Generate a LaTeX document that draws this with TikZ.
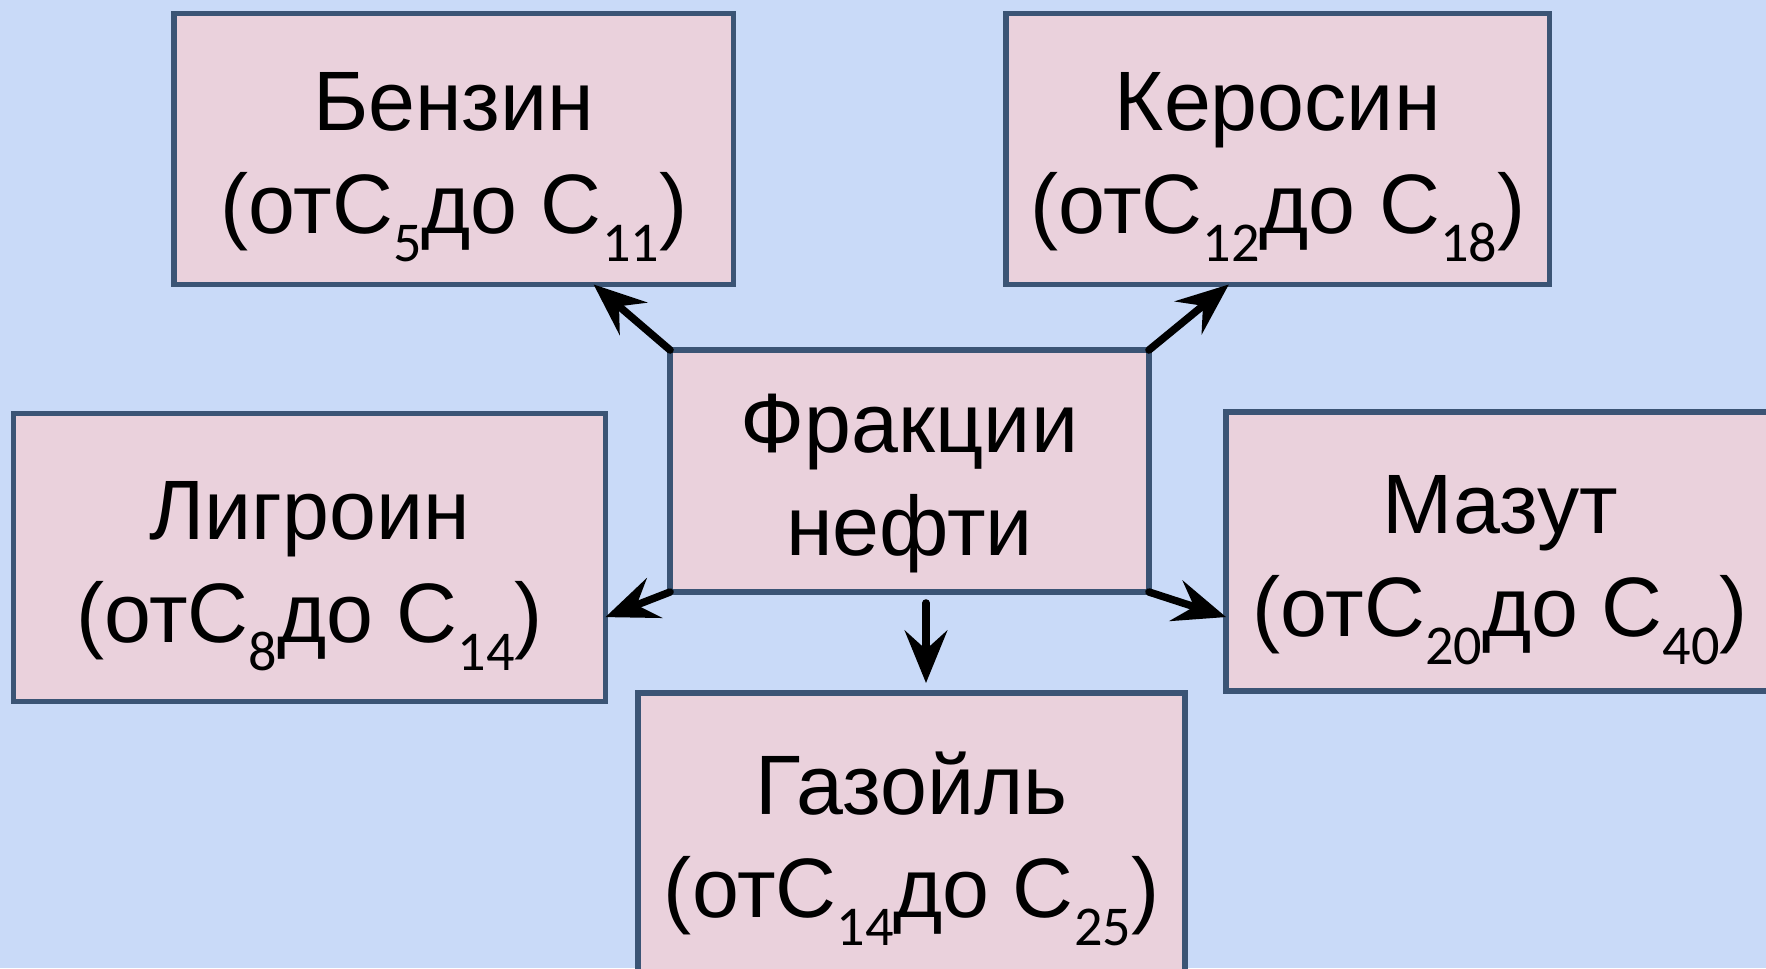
\documentclass[tikz,border=0pt]{standalone}
\usepackage{fontspec}
\setmainfont{Liberation Sans}
\newfontfamily\subfnt{Carlito}
\usetikzlibrary{arrows.meta,calc}
\definecolor{bgblue}{HTML}{C9DAF8}
\definecolor{boxpink}{HTML}{EAD1DC}
\definecolor{boxline}{HTML}{3B5475}
\newcommand\sbs[1]{\raisebox{-16pt}[0pt][0pt]{\subfnt\fontsize{32pt}{32pt}\selectfont #1}}
\newcommand\firstl{\rule{0pt}{53pt}}
\newcommand\lastl{\rule[-15pt]{0pt}{15pt}}
\begin{document}
\begin{tikzpicture}[x=0.02cm,y=-0.02cm,
  fbox/.style={draw=boxline, line width=0.11cm, fill=boxpink, inner sep=0pt, outer sep=0pt, align=center,
    font={\fontsize{48pt}{58.6pt}\selectfont}},
  arr/.style={line width=0.15cm, line cap=round, -{Stealth[length=1.05cm,width=0.85cm,inset=0.38cm]}}]
\fill[bgblue] (0,0) rectangle (1766,968);
\useasboundingbox (0,0) rectangle (1766,968);
\node[fbox, minimum width=11.19cm, minimum height=5.42cm] (benzin) at (453.75,149)
  {\firstl Бензин\\(отС\sbs{5}до С\sbs{11})\lastl};
\node[fbox, minimum width=10.87cm, minimum height=5.42cm] (kerosin) at (1277.75,149)
  {\firstl Керосин\\(отС\sbs{12}до С\sbs{18})\lastl};
\node[fbox, minimum width=9.58cm, minimum height=4.84cm] (fr) at (909.5,471)
  {\firstl Фракции\\нефти\lastl};
\node[fbox, minimum width=11.84cm, minimum height=5.76cm] (ligroin) at (309.5,557.5)
  {\firstl Лигроин\\(отС\sbs{8}до С\sbs{14})\lastl};
\node[fbox, minimum width=10.96cm, minimum height=5.58cm] (mazut) at (1500,551.5)
  {\firstl Мазут\\(отС\sbs{20}до С\sbs{40})\lastl};
\node[fbox, minimum width=10.94cm, minimum height=5.6cm] (gazoil) at (911.5,833)
  {\firstl Газойль\\(отС\sbs{14}до С\sbs{25})\lastl};
\draw[arr] (fr.north west) -- ($(benzin.south west)!0.75!(benzin.south east)$);
\draw[arr] (fr.north east) -- ($(kerosin.south west)!0.41!(kerosin.south east)$);
\draw[arr] (fr.south west) -- ($(ligroin.north east)!0.707!(ligroin.south east)$);
\draw[arr] (fr.south east) -- ($(mazut.north west)!0.735!(mazut.south west)$);
\coordinate (g1) at ($(fr.south)+(16.5,11)$);
\coordinate (g2) at ($(gazoil.north)+(14.5,-10)$);
\draw[arr] (g1) -- (g2);
\end{tikzpicture}
\end{document}
